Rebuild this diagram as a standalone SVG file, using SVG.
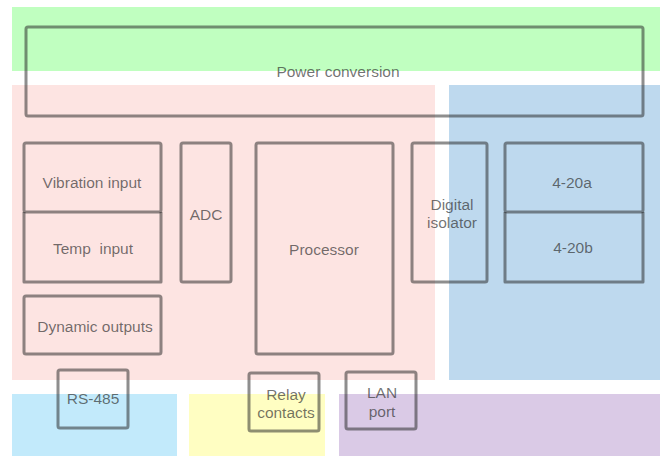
<svg xmlns="http://www.w3.org/2000/svg" width="660" height="456" viewBox="0 0 660 456">
  <style>
    .zone { stroke: none; }
    .box { fill: none; stroke: #262626; stroke-opacity: 0.52; stroke-width: 3; stroke-linejoin: round; }
    .lbl { font-family: "Liberation Sans", Arial, sans-serif; font-size: 15.5px; fill: #2a2a2a; fill-opacity: 0.66; text-anchor: middle; }
  </style>

  <!-- background zones -->
  <g id="zones">
    <rect class="zone" x="12" y="7" width="648" height="64" fill="#c0ffc0"/>
    <rect class="zone" x="12" y="85" width="423" height="295" fill="#fde4e2"/>
    <rect class="zone" x="449" y="85" width="211" height="295" fill="#bed9ee"/>
    <rect class="zone" x="12" y="394" width="165" height="62" fill="#c2eafb"/>
    <rect class="zone" x="189" y="394" width="136" height="62" fill="#fffec2"/>
    <rect class="zone" x="339" y="394" width="321" height="62" fill="#dacae6"/>
  </g>

  <!-- no connectors between blocks -->
  <g id="connectors"/>

  <g id="power">
    <rect class="box" x="26" y="27" width="617" height="89" rx="2"/>
    <text class="lbl" x="338" y="77">Power conversion</text>
  </g>

  <g id="vibration">
    <rect class="box" x="24" y="143" width="137" height="69" rx="2"/>
    <text class="lbl" x="92" y="188">Vibration input</text>
  </g>

  <!-- lower half of a stacked pair: shares the upper box's bottom edge -->
  <g id="temp">
    <path class="box" d="M24 212 V282 H161 V212"/>
    <text class="lbl" x="93" y="254" xml:space="preserve">Temp  input</text>
  </g>

  <g id="adc">
    <rect class="box" x="181" y="143" width="50" height="139" rx="2"/>
    <text class="lbl" x="206" y="220">ADC</text>
  </g>

  <g id="processor">
    <rect class="box" x="256" y="143" width="137" height="211" rx="2"/>
    <text class="lbl" x="324" y="255">Processor</text>
  </g>

  <g id="isolator">
    <rect class="box" x="412" y="143" width="75" height="139" rx="2"/>
    <text class="lbl" x="452" y="210">Digital</text>
    <text class="lbl" x="452" y="228">isolator</text>
  </g>

  <g id="out-a">
    <rect class="box" x="505" y="143" width="138" height="69" rx="2"/>
    <text class="lbl" x="572" y="188">4-20a</text>
  </g>

  <g id="out-b">
    <path class="box" d="M505 212 V282 H643 V212"/>
    <text class="lbl" x="573" y="253">4-20b</text>
  </g>

  <g id="dynamic">
    <rect class="box" x="24" y="296" width="137" height="58" rx="2"/>
    <text class="lbl" x="95" y="332">Dynamic outputs</text>
  </g>

  <g id="rs485">
    <rect class="box" x="58" y="370" width="70" height="58" rx="2"/>
    <text class="lbl" x="93" y="404">RS-485</text>
  </g>

  <g id="relay">
    <rect class="box" x="249" y="373" width="70" height="58" rx="2"/>
    <text class="lbl" x="286" y="400">Relay</text>
    <text class="lbl" x="286" y="418">contacts</text>
  </g>

  <g id="lan">
    <rect class="box" x="346" y="372" width="70" height="57" rx="2"/>
    <text class="lbl" x="382" y="398">LAN</text>
    <text class="lbl" x="382" y="417">port</text>
  </g>
</svg>
